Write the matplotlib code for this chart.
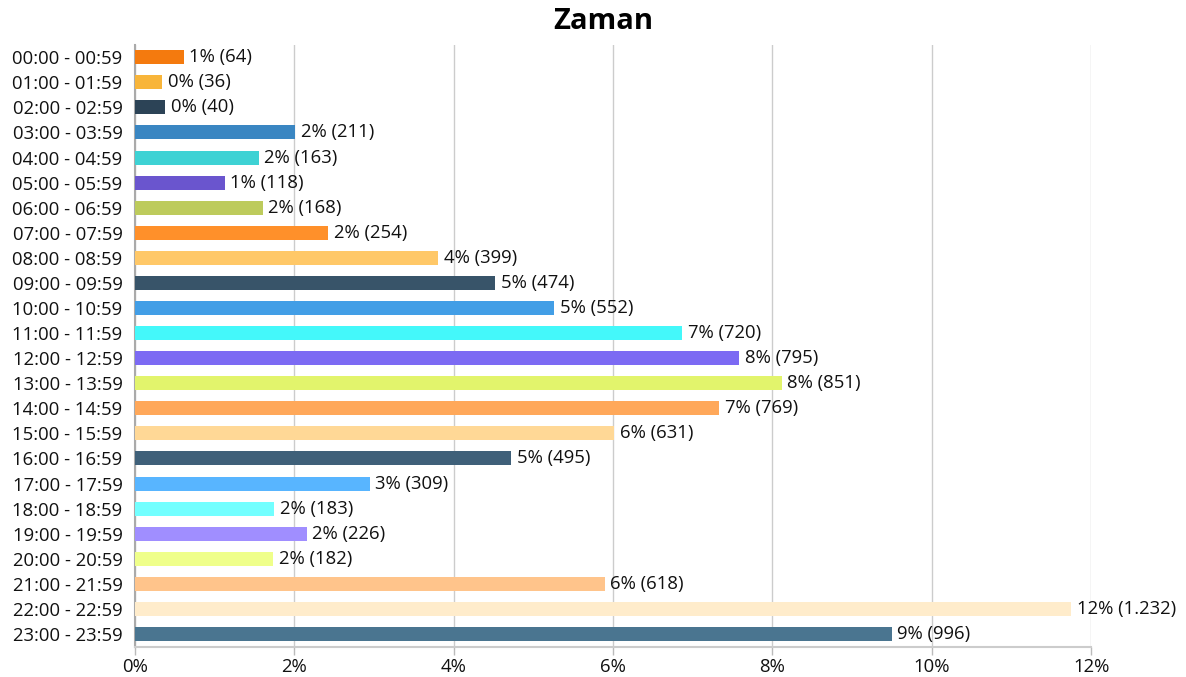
import matplotlib
matplotlib.use("Agg")
import matplotlib.pyplot as plt
from matplotlib.ticker import FuncFormatter, MultipleLocator

plt.rcParams['font.family'] = ['Open Sans', 'DejaVu Sans']

categories = [f"{h:02d}:00 - {h:02d}:59" for h in range(24)]
counts = [64, 36, 40, 211, 163, 118, 168, 254, 399, 474, 552, 720,
          795, 851, 769, 631, 495, 309, 183, 226, 182, 618, 1232, 996]
colors = ["#F47A0E", "#F8B53A", "#2C4356", "#3A86C2", "#3ED2D4", "#6A55CE",
          "#BDCB5C", "#FF902A", "#FFC868", "#385469", "#429EE6", "#44F8FA",
          "#7C6AF3", "#E2F46C", "#FFA85A", "#FFD896", "#3F6079", "#58B5FF",
          "#72FFFF", "#A08EFF", "#EFFF8A", "#FFC48B", "#FFECCB", "#4A7590"]
title = "Zaman"

total = sum(counts)
pcts = [c / total * 100 for c in counts]

def fmt_count(n):
    return f"{n:,}".replace(",", ".")

fig = plt.figure(figsize=(11.86, 6.77), dpi=100)
ax = fig.add_axes([0.1138, 0.045, 0.8062, 0.889])

y = list(range(len(categories)))
ax.barh(y, pcts, height=0.56, color=colors, zorder=3)
for yi, p, c in zip(y, pcts, counts):
    ax.text(p + 0.07, yi, f"{round(p):.0f}% ({fmt_count(c)})", va='center', ha='left',
            fontsize=13.3, color='#111111', zorder=4)

ax.set_ylim(len(categories) - 0.5, -0.5)
ax.set_xlim(0, 12)
ax.set_yticks(y)
ax.set_yticklabels(categories, fontsize=13.3, color='#111111')
ax.xaxis.set_major_locator(MultipleLocator(2))
ax.xaxis.set_major_formatter(FuncFormatter(lambda v, _: f"{v:.0f}%"))
ax.tick_params(axis='x', labelsize=13.3, colors='#bbbbbb', labelcolor='#111111', length=6, width=1, pad=2)
ax.tick_params(axis='y', length=0, pad=9)
ax.grid(axis='x', color='#cccccc', linewidth=1, zorder=0)
for s in ['top', 'right']:
    ax.spines[s].set_visible(False)
ax.spines['left'].set_color('#aaaaaa')
ax.spines['bottom'].set_color('#cccccc')
ax.spines['left'].set_linewidth(1.5)
ax.spines['bottom'].set_linewidth(1.5)
fig.text(0.5084, 0.968, title, ha='center', va='center', fontsize=21, fontweight='bold', color='#000000')

fig.savefig("out.png", dpi=100)
